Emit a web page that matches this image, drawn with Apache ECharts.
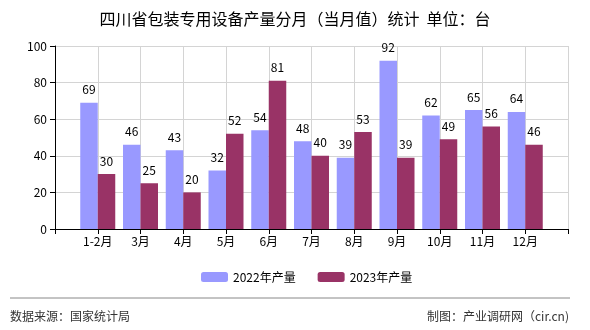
<!DOCTYPE html>
<html><head><meta charset="utf-8">
<script src="https://cdn.jsdelivr.net/npm/echarts@6/dist/echarts.min.js"></script>
<style>html,body{margin:0;padding:0;background:#fff}#c{width:590px;height:330px}</style>
</head><body><div id="c"></div>
<script>
const categories = ['1-2月','3月','4月','5月','6月','7月','8月','9月','10月','11月','12月'];
const values2022 = [69,46,43,32,54,48,39,92,62,65,64];
const values2023 = [30,25,20,52,81,40,53,39,49,56,46];
const seriesNames = ['2022年产量','2023年产量'];
const yTicks = {min:0, max:100, interval:20};

const font = '"Noto Sans CJK SC", "DejaVu Sans", sans-serif';
const cats = [''].concat(categories, ['']);
const d1 = [null].concat(values2022, [null]);
const d2 = [null].concat(values2023, [null]);
const chart = echarts.init(document.getElementById('c'));
chart.setOption({
  backgroundColor:'#fff',
  animation:false,
  title:{text:'四川省包装专用设备产量分月（当月值）统计  单位：台', left:'center', top:6,
    textStyle:{fontSize:16, fontWeight:'normal', color:'#000', fontFamily:font}},
  grid:{left:55, right:22, top:46, bottom:101},
  legend:{data:seriesNames, left:196, top:266, itemWidth:27, itemHeight:10, itemGap:22,
    textStyle:{fontSize:12, color:'#000', fontFamily:font}},
  xAxis:{type:'category', data:cats, boundaryGap:false,
    axisLine:{lineStyle:{color:'#000'}},
    axisTick:{show:true, length:5, lineStyle:{color:'#000'}, alignWithLabel:true},
    splitLine:{show:true, lineStyle:{color:'#d4d4d4'}},
    axisLabel:{interval:0, margin:6, fontSize:12, color:'#000', fontFamily:font}},
  yAxis:{type:'value', min:yTicks.min, max:yTicks.max, interval:yTicks.interval,
    axisLine:{show:true, lineStyle:{color:'#000'}},
    axisTick:{show:true, length:5, lineStyle:{color:'#000'}},
    splitLine:{lineStyle:{color:'#d4d4d4'}},
    axisLabel:{margin:8, fontSize:12, color:'#000', fontFamily:font}},
  series:[
    {name:seriesNames[0], type:'bar', data:d1, barWidth:17.5, barGap:'0%',
     itemStyle:{color:'#9999ff'},
     label:{show:true, position:'top', distance:7, fontSize:12, color:'#000', fontFamily:font}},
    {name:seriesNames[1], type:'bar', data:d2, barWidth:17.5, barGap:'0%',
     itemStyle:{color:'#993366'},
     label:{show:true, position:'top', distance:7, fontSize:12, color:'#000', fontFamily:font}}
  ],
  graphic:[
    {type:'line', shape:{x1:10, y1:298, x2:570, y2:298}, style:{stroke:'#888', lineWidth:1}},
    {type:'text', left:10, top:310, style:{text:'数据来源：国家统计局', fill:'#333', font:'12px '+font}},
    {type:'text', right:21, top:310, style:{text:'制图：产业调研网（cir.cn)', fill:'#333', font:'12px '+font}}
  ]
});
</script></body></html>
